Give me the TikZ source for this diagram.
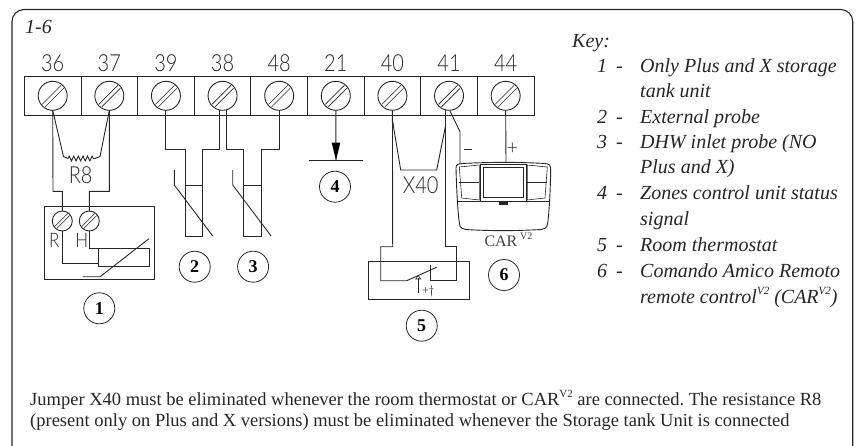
\documentclass[tikz,border=0pt]{standalone}
\usepackage{fontspec}
\setmainfont{Liberation Serif}
\newfontfamily\numfont{Lato Light}
\frenchspacing
\usetikzlibrary{arrows,arrows.meta}
\usetikzlibrary{calc, positioning}
\usetikzlibrary{decorations, decorations.pathmorphing}
\definecolor{wirec}{gray}{0.15}
\newcommand{\numtxt}[1]{\scalebox{.85}[1]{#1}}
\newcommand{\vtwo}{\raisebox{.42em}{\fontsize{11}{11}\selectfont V2}}
\tikzset{
    wire/.style={draw=wirec, line width=0.9pt},
    thinw/.style={draw=wirec, line width=0.6pt},
    numlab/.style={font=\numfont\fontsize{23.5}{23.5}\selectfont, inner sep=0pt, text=wirec},
    tag/.style={draw=wirec, circle, line width=0.8pt, minimum size=31pt, inner sep=0pt, font=\bfseries\fontsize{18}{18}\selectfont},
    keytext/.style={font=\itshape\fontsize{20}{24}\selectfont, inner sep=0pt, anchor=base west, text=black!85},
    notetext/.style={font=\fontsize{18.5}{22}\selectfont, inner sep=0pt, anchor=base west, text=black!85},
    bareR/.style={decorate, decoration={zigzag, amplitude=2.4pt, segment length=4.6pt}},
}
\begin{document}
\begin{tikzpicture}[x=1pt, y=-1pt]
    \useasboundingbox (0,0) rectangle (856,445);
    \def \top {76.7}
    \def \bot {115}
    \def \pitch {56.62}
    % frame
    \draw[draw=wirec, line width=1.1pt, rounded corners=12pt] (12,446) -- (12,9.5) -- (852.7,9.5) -- (852.7,446);
    \node[keytext] (title) at (25,33) {1-6};
    % terminal strip
    \draw[wire] (24,\top) rectangle (534.3,\bot);
    \foreach \lab [count=\i from 0] in {36,37,39,38,48,21,40,41,44}{
        \coordinate (t\lab) at ({52.7+\pitch*\i},95.8);
        \coordinate (b\lab) at ({52.7+\pitch*\i},110.3);
        \node[numlab] (n\lab) at ({52.7+\pitch*\i},63.3) {\numtxt{\lab}};
        \draw[wire] (t\lab) circle (14.5pt);
        \draw[thinw] ($(t\lab)+(-10.5,8.5)$) -- ($(t\lab)+(8.5,-10.5)$);
        \draw[thinw] ($(t\lab)+(-7.5,11)$) -- ($(t\lab)+(11,-7.5)$);
        \ifnum\i>0 \draw[wire] ({24.4+\pitch*\i},\top) -- ({24.4+\pitch*\i},\bot); \fi
    }
    % unit 1
    \draw[wire] (44.3,206.7) rectangle (154.3,279.3);
    \coordinate (ur) at (62.3,221);
    \coordinate (uh) at (89.3,221);
    \foreach \c in {ur,uh}{
        \draw[wire] (\c) circle (10pt);
        \draw[thinw] ($(\c)+(-7.5,5.5)$) -- ($(\c)+(5.5,-7.5)$);
        \draw[thinw] ($(\c)+(-5.5,7.5)$) -- ($(\c)+(7.5,-5.5)$);
    }
    \node[numlab, font=\numfont\fontsize{20}{20}\selectfont] (rlab) at (54.3,240.7) {\numtxt{R}};
    \node[numlab, font=\numfont\fontsize{20}{20}\selectfont] (hlab) at (81.7,240.7) {\numtxt{H}};
    \coordinate (ra) at (53,191.3);
    \coordinate (ha) at (109.3,191.3);
    \draw[wire] (b36) -- (ra) -- (62.3,191.3) -- ($(ur)+(0,-10)$);
    \draw[wire] (b37) -- (ha) -- (89.3,191.3) -- ($(uh)+(0,-10)$);
    \coordinate (r8a) at (63.5,156.5);
    \coordinate (r8b) at (100,156.5);
    \draw[wire] (b36) -- (r8a) -- (68,158.5);
    \draw[wire, bareR] (68,158.5) -- (95,158.5);
    \draw[wire] (95,158.5) -- (r8b) -- (b37);
    \node[numlab] (r8) at (80.7,175) {\numtxt{R8}};
    \draw[wire] (98.3,248.3) rectangle (149,266.7);
    \draw[wire] ($(ur)+(0,10)$) -- (62.3,263.3) -- (98.3,263.3);
    \draw[wire] ($(uh)+(0,10)$) -- (89.3,248.3) -- (98.3,248.3);
    \draw[wire] (82.7,276.7) -- (100,276.7) -- (149,238.7);
    \node[tag] (tag1) at (99.3,308.3) {1};
    % probes 2 and 3
    \foreach \x/\t in {0/2, 58.4/3}{
        \draw[wire] ({185+\x},185) -- ({202.7+\x},185);
        \draw[wire] ({174.3+\x},170) -- ({174.3+\x},185) -- ({212.7+\x},236);
        \draw[wire] ({185+\x},149) -- ({185+\x},236) -- ({202.7+\x},236) -- ({202.7+\x},149);
        \node[tag] (tag\t) at ({194.7+\x},266.7) {\t};
    }
    \draw[wire] (b39) |- (185,149);
    \draw[wire] (202.7,149) -| (219.3,110);
    \draw[wire] (226,110) |- (243.4,149);
    \draw[wire] (261.1,149) -| (b48);
    % signal 4
    \coordinate (s4) at (336,160.3);
    \draw[wire] (b21) -- (s4);
    \fill[black] (331.7,142.7) -- (340.3,142.7) -- (s4) -- cycle;
    \draw[wire] (309,160.3) -- (362.7,160.3);
    \node[tag] (tag4) at (335,186.7) {4};
    % jumper X40 and thermostat 5
    \coordinate (j1) at (400.7,170);
    \coordinate (j2) at (436.7,170);
    \draw[wire] (392.7,121.7) -- (j1) -- (j2) -- (445.7,125);
    \node[numlab] (x40) at (420.7,185) {\numtxt{X40}};
    \draw[wire] (b40) -- (392.7,246.7) -- (380.7,246.7) -- (380.7,280.7) -- (406.7,280.7) -- (436.7,267.3);
    \draw[wire] (445.7,110) -- (445.7,246.7) -- (456.7,246.7) -- (456.7,280.7) -- (430.7,280.7) -- (430.7,265);
    \draw[wire] (368.3,261.7) rectangle (469.3,299.3);
    \draw[thinw] (418.3,293) -- (418.3,278);
    \draw[thinw] (418.3,275.5) -- (415.8,279) -- (420.8,279) -- cycle;
    \node[font=\numfont\fontsize{12}{12}\selectfont, inner sep=0pt] (pm) at (428,291.5) {+$\dagger$};
    \node[tag] (tag5) at (421.7,325.7) {5};
    % remote 6
    \draw[wire] (450,111) -- (460,131.7) -- (460,163.5);
    \draw[wire] (b44) -- (506,163);
    \node[numlab] (minus) at (467.7,149) {\rule{8pt}{0.7pt}};
    \node[numlab, font=\numfont\fontsize{20}{20}\selectfont] (plus) at (512.3,149) {+};
    \draw[wire] (456,168) .. controls (456,164.5) and (458,164) .. (462,163.5) .. controls (490,162) and (520,162) .. (545,163.5) .. controls (549,164) and (551,165) .. (550.7,168) .. controls (550.5,190) and (549,215) .. (547.5,224) .. controls (547,228) and (544,229.5) .. (541,229.5) .. controls (515,231) and (490,231) .. (466,229.5) .. controls (463,229.5) and (460,228) .. (459.5,224) .. controls (458,215) and (456.5,190) .. (456,168);
    \draw[thinw] (457.5,201.7) -- (549,201.7);
    \draw[wire] (480,164) rectangle (526.7,201.7);
    \draw[thinw] (483.3,167.3) rectangle (523.3,197.3);
    \draw[thinw] (459.3,167) -- (479.3,165) -- (479.3,200) -- (461.7,198) -- cycle;
    \draw[thinw] (547.3,167) -- (527.3,165) -- (527.3,200) -- (545,198) -- cycle;
    \draw[thinw] (459.3,182.3) -- (479.3,182.3);
    \draw[thinw] (527.3,182.3) -- (547.3,182.3);
    \fill[wirec] (499.3,202.3) rectangle (508.3,204.5);
    \node[anchor=base west, font=\fontsize{16}{16}\selectfont, inner sep=0pt, text=black!75] (car) at (484.3,246.7) {CAR\,\raisebox{.42em}{\fontsize{10}{10}\selectfont V2}};
    \node[tag] (tag6) at (504,275) {6};
    % key
    \node[keytext] (key) at (572,47) {Key:};
    \foreach \y/\n/\t in {72/1/Only Plus and X storage, 123/2/External probe, 148/3/DHW inlet probe (NO, 199/4/Zones control unit status, 251/5/Room thermostat, 277/6/Comando Amico Remoto}{
        \node[keytext] (k\n) at (597,\y) {\n};
        \node[keytext] (d\n) at (616,\y) {-};
        \node[keytext] (e\n) at (640,\y) {\t};
    }
    \node[keytext] (e1b) at (640,97) {tank unit};
    \node[keytext] (e3b) at (640,173) {Plus and X)};
    \node[keytext] (e4b) at (640,225) {signal};
    \node[keytext] (e6b) at (640,303) {remote control\vtwo{} (CAR\vtwo)};
    % note
    \node[notetext] (note1) at (30,405) {Jumper X40 must be eliminated whenever the room thermostat or CAR\vtwo{} are connected. The resistance R8};
    \node[notetext] (note2) at (30,426) {(present only on Plus and X versions) must be eliminated whenever the Storage tank Unit is connected};
\end{tikzpicture}
\end{document}
